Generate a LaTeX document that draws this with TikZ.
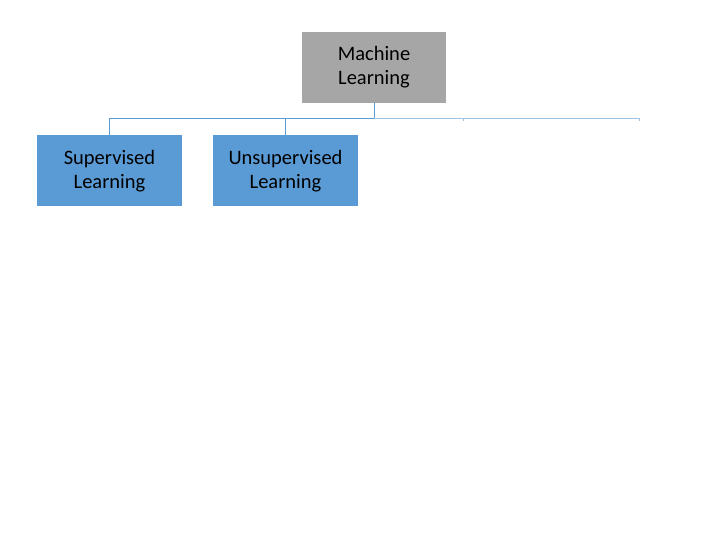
\documentclass[tikz,border=0pt]{standalone}
\usepackage{fontspec}
\setmainfont{Carlito}
\definecolor{mlgray}{HTML}{A6A6A6}
\definecolor{mlblue}{HTML}{5B9BD5}
\definecolor{lineblue}{HTML}{5B9BD5}
\definecolor{lightline}{HTML}{9DC3E6}
\begin{document}
\begin{tikzpicture}[x=1pt,y=1pt,
  box/.style={rectangle,minimum width=144pt,minimum height=71pt,inner sep=2pt,align=center,font=\fontsize{20.5}{24}\selectfont,text=black},
  conn/.style={draw=lineblue,line width=1pt},
  lconn/.style={draw=lightline,line width=1pt}]
\useasboundingbox (0,0) rectangle (720,540);
\node[box,fill=mlgray] (ml) at (374,472.5) {Machine\\Learning};
\node[box,fill=mlblue,minimum width=145pt] (sup) at (109.5,369.25) {Supervised\\Learning};
\node[box,fill=mlblue,minimum width=145pt] (unsup) at (285.5,369.25) {Unsupervised\\Learning};
\coordinate (bus) at (374,421.7);
\coordinate (e3) at (463,418.5);
\coordinate (e4) at (639,418.5);
\draw[conn] (ml.south) -- (bus);
\draw[conn] (bus) -| (sup.north);
\draw[conn] (bus) -| (unsup.north);
\draw[lconn] (bus) -| (e3);
\draw[lconn] (bus) -| (e4);
\end{tikzpicture}
\end{document}
